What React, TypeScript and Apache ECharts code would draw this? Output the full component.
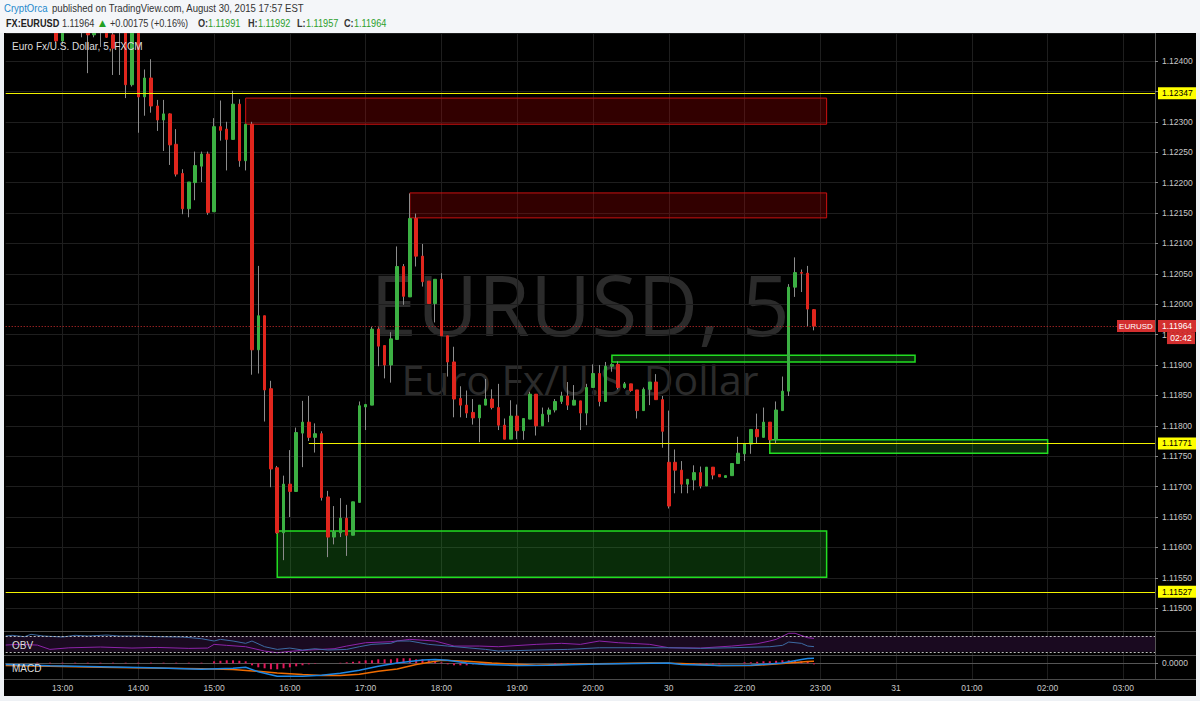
import React, { useEffect, useRef } from 'react';
import * as echarts from 'echarts';

// ---------- data ----------
const firstBarTime = '12:15';
const barCount = 183;
const hourTicks = ['13:00', '14:00', '15:00', '16:00', '17:00', '18:00', '19:00', '20:00', '21:00', '22:00', '23:00', '00:00', '01:00', '02:00', '03:00'];
const hourTickLabels = ['13:00', '14:00', '15:00', '16:00', '17:00', '18:00', '19:00', '20:00', '30', '22:00', '23:00', '31', '01:00', '02:00', '03:00'];

// [time, open, high, low, close]
const candles: [string, number, number, number, number][] = [
  ['12:55', 1.12475, 1.12495, 1.1243, 1.12433],
  ['13:00', 1.12433, 1.12485, 1.12428, 1.1247],
  ['13:05', 1.1247, 1.125, 1.12458, 1.12488],
  ['13:10', 1.12488, 1.12505, 1.12462, 1.12478],
  ['13:15', 1.12478, 1.1249, 1.12439, 1.1247],
  ['13:20', 1.1247, 1.1248, 1.1238, 1.12443],
  ['13:25', 1.12443, 1.12475, 1.12439, 1.12468],
  ['13:30', 1.12468, 1.12485, 1.12423, 1.12458],
  ['13:35', 1.12458, 1.12465, 1.12438, 1.12439],
  ['13:40', 1.12443, 1.1245, 1.12377, 1.12421],
  ['13:45', 1.1246, 1.1249, 1.12377, 1.12475],
  ['13:50', 1.12475, 1.12485, 1.12339, 1.12361],
  ['13:55', 1.12361, 1.1248, 1.12358, 1.1247],
  ['14:00', 1.1247, 1.1248, 1.12282, 1.12341],
  ['14:05', 1.12341, 1.12386, 1.1231, 1.12372],
  ['14:10', 1.12372, 1.12403, 1.12315, 1.12326],
  ['14:15', 1.12326, 1.12336, 1.12285, 1.12303],
  ['14:20', 1.12303, 1.12336, 1.12252, 1.12313],
  ['14:25', 1.12313, 1.12314, 1.12229, 1.12262],
  ['14:30', 1.12263, 1.12288, 1.1221, 1.12214],
  ['14:35', 1.12215, 1.12222, 1.12148, 1.12157],
  ['14:40', 1.12157, 1.12201, 1.12143, 1.12201],
  ['14:45', 1.122, 1.12251, 1.12171, 1.12228],
  ['14:50', 1.12227, 1.12251, 1.12201, 1.12247],
  ['14:55', 1.12247, 1.12251, 1.12147, 1.12151],
  ['15:00', 1.12152, 1.12306, 1.12152, 1.12292],
  ['15:05', 1.12292, 1.12335, 1.12269, 1.12286],
  ['15:10', 1.12288, 1.123, 1.1222, 1.12271],
  ['15:15', 1.12271, 1.12351, 1.12271, 1.12329],
  ['15:20', 1.12329, 1.12337, 1.12226, 1.12236],
  ['15:25', 1.12236, 1.12296, 1.1222, 1.12296],
  ['15:30', 1.12296, 1.123, 1.11884, 1.11925],
  ['15:35', 1.11925, 1.12063, 1.11886, 1.11981],
  ['15:40', 1.11981, 1.11981, 1.11807, 1.11859],
  ['15:45', 1.11861, 1.11874, 1.11699, 1.11729],
  ['15:50', 1.11731, 1.11734, 1.11622, 1.11624],
  ['15:55', 1.11624, 1.11718, 1.11579, 1.11704],
  ['16:00', 1.11704, 1.1176, 1.1165, 1.11692],
  ['16:05', 1.11692, 1.11797, 1.11692, 1.11789],
  ['16:10', 1.11788, 1.11841, 1.11732, 1.11806],
  ['16:15', 1.11806, 1.11849, 1.11775, 1.11781],
  ['16:20', 1.11781, 1.11804, 1.11756, 1.11787],
  ['16:25', 1.11787, 1.11791, 1.11677, 1.11682],
  ['16:30', 1.11683, 1.11693, 1.11584, 1.11617],
  ['16:35', 1.11617, 1.11668, 1.11605, 1.11626],
  ['16:40', 1.11624, 1.11681, 1.11617, 1.11648],
  ['16:45', 1.11648, 1.1167, 1.11586, 1.1162],
  ['16:50', 1.1162, 1.11675, 1.1162, 1.11675],
  ['16:55', 1.11674, 1.1184, 1.11674, 1.11833],
  ['17:00', 1.11831, 1.11836, 1.11793, 1.11835],
  ['17:05', 1.11834, 1.11963, 1.11834, 1.11959],
  ['17:10', 1.11959, 1.11962, 1.11898, 1.11931],
  ['17:15', 1.11932, 1.11932, 1.11878, 1.119],
  ['17:20', 1.119, 1.11954, 1.11871, 1.11943],
  ['17:25', 1.11942, 1.12095, 1.11942, 1.12062],
  ['17:30', 1.12062, 1.12066, 1.11999, 1.12013],
  ['17:35', 1.12012, 1.12182, 1.12012, 1.12141],
  ['17:40', 1.12141, 1.12149, 1.12062, 1.12079],
  ['17:45', 1.12079, 1.12099, 1.12029, 1.12037],
  ['17:50', 1.12038, 1.12038, 1.12001, 1.12001],
  ['17:55', 1.12001, 1.12041, 1.1197, 1.12041],
  ['18:00', 1.12041, 1.12051, 1.11948, 1.11948],
  ['18:05', 1.11948, 1.11948, 1.11881, 1.11905],
  ['18:10', 1.11905, 1.1193, 1.11814, 1.11844],
  ['18:15', 1.11845, 1.11865, 1.11814, 1.11834],
  ['18:20', 1.11834, 1.11858, 1.11813, 1.11821],
  ['18:25', 1.11822, 1.11844, 1.11802, 1.11813],
  ['18:30', 1.11813, 1.11834, 1.11773, 1.11834],
  ['18:35', 1.11834, 1.11877, 1.11834, 1.11844],
  ['18:40', 1.11844, 1.1186, 1.11827, 1.1183],
  ['18:45', 1.1183, 1.11869, 1.11793, 1.11801],
  ['18:50', 1.11801, 1.11812, 1.11778, 1.11778],
  ['18:55', 1.11778, 1.11842, 1.11778, 1.11816],
  ['19:00', 1.11816, 1.11835, 1.11778, 1.11792],
  ['19:05', 1.11792, 1.11812, 1.11777, 1.11812],
  ['19:10', 1.11811, 1.11856, 1.11811, 1.11852],
  ['19:15', 1.11852, 1.11852, 1.11784, 1.118],
  ['19:20', 1.118, 1.1183, 1.118, 1.11819],
  ['19:25', 1.11819, 1.1183, 1.11806, 1.11826],
  ['19:30', 1.11826, 1.11844, 1.11822, 1.1184],
  ['19:35', 1.1184, 1.11856, 1.11836, 1.11849],
  ['19:40', 1.11849, 1.11872, 1.11826, 1.11834],
  ['19:45', 1.11834, 1.11867, 1.11834, 1.11842],
  ['19:50', 1.11841, 1.11841, 1.11793, 1.11821],
  ['19:55', 1.11821, 1.11869, 1.11801, 1.11863],
  ['20:00', 1.11863, 1.11901, 1.11863, 1.11886],
  ['20:05', 1.11886, 1.119, 1.11832, 1.1184],
  ['20:10', 1.1184, 1.11905, 1.1184, 1.11898],
  ['20:15', 1.11898, 1.11903, 1.11889, 1.11901],
  ['20:20', 1.11901, 1.11906, 1.1186, 1.11863],
  ['20:25', 1.11863, 1.11872, 1.11861, 1.11869],
  ['20:30', 1.11869, 1.11869, 1.11856, 1.11858],
  ['20:35', 1.11859, 1.11859, 1.11812, 1.11825],
  ['20:40', 1.11825, 1.11863, 1.11825, 1.1186],
  ['20:45', 1.1186, 1.11872, 1.11834, 1.11872],
  ['20:50', 1.11872, 1.11885, 1.11843, 1.11843],
  ['20:55', 1.11843, 1.11849, 1.11764, 1.11791],
  ['21:00', 1.1174, 1.11825, 1.11664, 1.11668],
  ['21:05', 1.1174, 1.11761, 1.11689, 1.11727],
  ['21:10', 1.11727, 1.11742, 1.11689, 1.11704],
  ['21:15', 1.11704, 1.11712, 1.11689, 1.11712],
  ['21:20', 1.11711, 1.11735, 1.11694, 1.11723],
  ['21:25', 1.11723, 1.11733, 1.11697, 1.11701],
  ['21:30', 1.11701, 1.11732, 1.11701, 1.11732],
  ['21:35', 1.11732, 1.11732, 1.11712, 1.11719],
  ['21:40', 1.1172, 1.1172, 1.11716, 1.11716],
  ['21:45', 1.11715, 1.11718, 1.11715, 1.11718],
  ['21:50', 1.11718, 1.11738, 1.11718, 1.11738],
  ['21:55', 1.11738, 1.11782, 1.11738, 1.11755],
  ['22:00', 1.11754, 1.1177, 1.11742, 1.1177],
  ['22:05', 1.1177, 1.11794, 1.11754, 1.11794],
  ['22:10', 1.11794, 1.1182, 1.11771, 1.11782],
  ['22:15', 1.11781, 1.1183, 1.11781, 1.11806],
  ['22:20', 1.11806, 1.11806, 1.11771, 1.11777],
  ['22:25', 1.11777, 1.1184, 1.11771, 1.11826],
  ['22:30', 1.11825, 1.11881, 1.11825, 1.11857],
  ['22:35', 1.11857, 1.12033, 1.11849, 1.12028],
  ['22:40', 1.12028, 1.12077, 1.12012, 1.12052],
  ['22:45', 1.12052, 1.12057, 1.1202, 1.12051],
  ['22:50', 1.12051, 1.12063, 1.11964, 1.11992],
  ['22:55', 1.11991, 1.11992, 1.11957, 1.11964],
];

const supplyZones = [
  { from: '15:25', to: '23:05', low: 1.12296, high: 1.12339 },
  { from: '17:35', to: '23:05', low: 1.12142, high: 1.12183 },
];
const demandZones = [
  { from: '20:15', to: '00:15', low: 1.11905, high: 1.11916 },
  { from: '22:20', to: '02:00', low: 1.11755, high: 1.11777 },
  { from: '15:50', to: '23:05', low: 1.11551, high: 1.11627 },
];
const levelLines = [
  { price: 1.12347, from: '' },
  { price: 1.11771, from: '16:15' },
  { price: 1.11527, from: '' },
];
const lastPrice = 1.11964;
const countdown = '02:42';

const rsiLine: [string, number][] = [
  ['12:15', 47], ['12:25', 48.8], ['12:40', 47], ['12:50', 36], ['13:05', 40], ['13:30', 42], ['13:55', 39.4],
  ['14:15', 41], ['14:40', 38.6], ['14:55', 39.4], ['15:00', 48.8], ['15:10', 46.3], ['15:25', 42.8],
  ['15:40', 31.8], ['15:50', 27.5], ['16:00', 31], ['16:15', 34.4], ['16:35', 37.7], ['16:45', 44.5],
  ['17:00', 53], ['17:20', 55.5], ['17:35', 61.5], ['17:55', 57.3], ['18:10', 44.5], ['18:30', 44.5],
  ['18:45', 42.8], ['19:15', 48.8], ['19:35', 51.4], ['19:50', 48.8], ['20:05', 57.3], ['20:20', 53],
  ['20:30', 51.4], ['20:45', 48.8], ['21:00', 40.2], ['21:25', 39.4], ['21:50', 44.5], ['22:10', 50.4],
  ['22:20', 57.3], ['22:25', 61.5], ['22:35', 77], ['22:40', 77], ['22:50', 65.7], ['22:55', 64],
];
const obvLine: [string, number][] = [
  ['12:15', 70], ['12:20', 71.8], ['12:30', 68.3], ['12:35', 74.3], ['12:45', 70], ['13:00', 67.5],
  ['13:10', 71.8], ['13:20', 70], ['13:35', 72.5], ['13:45', 70], ['14:00', 70], ['14:15', 68.3],
  ['14:35', 67.5], ['14:50', 63.2], ['15:00', 57.3], ['15:05', 61.5], ['15:15', 57.3], ['15:25', 51.4],
  ['15:30', 57.3], ['15:40', 42.8], ['15:50', 36], ['16:00', 39.4], ['16:10', 34.4], ['16:20', 37.7],
  ['16:30', 34.4], ['16:45', 36], ['16:55', 42.8], ['17:05', 48.8], ['17:20', 51.4], ['17:25', 57.3],
  ['17:35', 57.3], ['17:50', 48.8], ['18:05', 44.5], ['18:35', 36], ['18:45', 31.8], ['19:00', 33],
  ['19:15', 34.4], ['19:40', 36], ['20:05', 40.2], ['20:30', 40.2], ['21:00', 40.2], ['21:25', 38.6],
  ['21:50', 40.2], ['22:20', 42.8], ['22:30', 46.3], ['22:35', 54.7], ['22:45', 51.4], ['22:50', 44.5],
  ['22:55', 43],
];
const macdLine: [string, number][] = [
  ['12:15', -0.000013], ['12:50', -0.000025], ['13:30', -0.000035], ['14:10', -0.000045], ['14:50', -0.00006],
  ['15:15', -0.00005], ['15:25', -0.00004], ['15:35', -0.000085], ['15:50', -0.00013], ['16:10', -0.00013],
  ['16:25', -0.00012], ['16:40', -0.0001], ['16:55', -0.00007], ['17:10', -0.00003], ['17:25', 0.000003],
  ['17:45', 0.000032], ['17:55', 0.000037], ['18:05', 0.00003], ['18:20', 0.000003], ['18:35', -0.000013],
  ['19:00', -0.000023], ['19:25', -0.00002], ['20:05', -0.000007], ['21:00', 0.000003], ['21:10', -0.000013],
  ['21:40', -0.000023], ['22:05', -0.00002], ['22:30', 0.000003], ['22:45', 0.000037], ['22:50', 0.000047],
  ['22:55', 0.00005],
];
const signalLine: [string, number][] = [
  ['12:15', -0.000023], ['12:50', -0.00003], ['13:30', -0.00004], ['14:10', -0.000047], ['14:50', -0.000055],
  ['15:15', -0.000063], ['15:35', -0.00008], ['15:50', -0.000097], ['16:10', -0.000113], ['16:25', -0.000123],
  ['16:40', -0.000123], ['16:55', -0.00011], ['17:10', -0.00008], ['17:25', -0.000057], ['17:40', -0.000013],
  ['18:00', 0.00003], ['18:20', 0.00002], ['18:40', 0.000003], ['19:15', -0.00002], ['19:50', -0.000007],
  ['20:45', 0.000003], ['21:10', -0.000003], ['21:40', -0.000023], ['22:05', -0.000023], ['22:30', -0.000003],
  ['22:50', 0.000017], ['22:55', 0.00002],
];
const macdHist: [string, number][] = [
  ['12:40', 0.000006], ['12:50', 0.000006], ['13:00', 0.000006], ['13:10', 0.000006], ['13:20', 0.000006],
  ['13:30', 0.000006], ['13:40', 0.000006], ['13:50', 0.000006], ['14:00', 0.000006], ['14:10', 0.000006],
  ['14:20', 0.000006], ['14:30', 0.000006], ['14:40', 0.000006], ['14:50', 0.000006],
  ['15:00', 0.00002], ['15:05', 0.000025], ['15:10', 0.00003], ['15:15', 0.00003], ['15:20', 0.000025], ['15:25', 0.00002],
  ['15:30', -0.00002], ['15:35', -0.00004], ['15:40', -0.00005], ['15:45', -0.00006], ['15:50', -0.00006],
  ['15:55', -0.00005], ['16:00', -0.00004], ['16:05', -0.00003], ['16:10', -0.00002], ['16:15', -0.00001],
  ['16:20', -0.000005], ['16:40', 0.000005], ['16:45', 0.00001], ['16:50', 0.000015],
  ['16:55', 0.00002], ['17:00', 0.00003], ['17:05', 0.00003], ['17:10', 0.00004], ['17:15', 0.00004],
  ['17:20', 0.00004], ['17:25', 0.00005], ['17:30', 0.00005], ['17:35', 0.00005], ['17:40', 0.00004],
  ['17:45', 0.00004], ['17:50', 0.00003], ['17:55', 0.00002], ['18:00', 0.00001],
  ['18:05', -0.00001], ['18:10', -0.00002], ['18:15', -0.00002], ['18:20', -0.00002], ['18:25', -0.00001],
  ['18:30', -0.00001], ['18:35', -0.00001], ['18:40', -0.000005],
  ['19:30', -0.000008], ['19:35', -0.000008], ['19:40', -0.000008], ['19:45', -0.000008], ['19:50', -0.000008], ['19:55', -0.000008],
  ['21:10', -0.00001], ['21:15', -0.000015], ['21:20', -0.00001], ['21:25', -0.00001], ['21:30', -0.000015],
  ['21:35', -0.00001], ['21:40', -0.00001],
  ['22:00', 0.00001], ['22:05', 0.00001], ['22:10', 0.000015], ['22:15', 0.00002], ['22:20', 0.00002],
  ['22:25', 0.000025], ['22:30', 0.00003], ['22:35', 0.00003], ['22:40', 0.000025], ['22:45', 0.00002],
  ['22:50', 0.00002], ['22:55', -0.00001],
];

// ---------- helpers ----------
function buildCategories(): string[] {
  const [h0, m0] = firstBarTime.split(':').map(Number);
  const out: string[] = [];
  for (let i = 0; i < barCount; i++) {
    const t = (h0 * 60 + m0 + i * 5) % 1440;
    out.push(String(Math.floor(t / 60)).padStart(2, '0') + ':' + String(t % 60).padStart(2, '0'));
  }
  return out;
}

const UP = '#3cb043';
const DOWN = '#e0261d';
const WICK = '#8c8c8c';
const GRID_COLOR = '#1e1e1e';
const AXIS_COLOR = '#555555';
const LABEL_COLOR = '#c8c8c8';
const FONT = "'Liberation Sans', Arial, sans-serif";
const HEAD_FONT = "'Liberation Sans', Arial, sans-serif";
const SQ = 0.87; // horizontal squeeze for the condensed header face

export default function App() {
  const ref = useRef<HTMLDivElement>(null);

  useEffect(() => {
    document.body.style.margin = '0';
    const chart = echarts.init(ref.current!, undefined, { renderer: 'svg' });
    const categories = buildCategories();
    const lastCat = categories[categories.length - 1];
    const isHour = (_i: number, v: string) => hourTicks.indexOf(v) >= 0;

    const mkX = (gridIndex: number, showLabels: boolean) => ({
      type: 'category',
      gridIndex,
      data: categories,
      boundaryGap: false,
      axisLine: { show: showLabels, lineStyle: { color: AXIS_COLOR } },
      axisTick: { show: false },
      axisLabel: {
        show: showLabels,
        interval: isHour,
        formatter: (v: string) => hourTickLabels[hourTicks.indexOf(v)] ?? '',
        color: LABEL_COLOR,
        fontSize: 8.5,
        fontFamily: FONT,
        margin: 4,
      },
      splitLine: { show: true, interval: isHour, lineStyle: { color: GRID_COLOR, width: 1 } },
    });

    const tagLabel = (bg: string, fg: string) => ({
      show: true,
      position: 'end',
      distance: 3,
      formatter: '{b}',
      backgroundColor: bg,
      color: fg,
      fontSize: 8.5,
      fontFamily: FONT,
      padding: [2, 4, 1, 4],
    });

    const markLineData: any[] = levelLines.map((l) => {
      const name = l.price.toFixed(5);
      if (l.from) {
        return [
          { name, coord: [l.from, l.price] },
          { name, coord: [lastCat, l.price] },
        ];
      }
      return { name, yAxis: l.price };
    });
    markLineData.push({
      name: lastPrice.toFixed(5),
      yAxis: lastPrice,
      lineStyle: { color: '#d32f2f', type: [1, 2], width: 1 },
      label: tagLabel('#d32f2f', '#ffffff'),
    });

    const zoneItems = [
      ...supplyZones.map((z) => [
        { coord: [z.from, z.high], itemStyle: { color: 'rgba(200,0,0,0.25)', borderColor: '#cc1111', borderWidth: 1 } },
        { coord: [z.to, z.low] },
      ]),
      ...demandZones.map((z) => [
        { coord: [z.from, z.high], itemStyle: { color: 'rgba(40,200,40,0.22)', borderColor: '#22dd22', borderWidth: 1.5 } },
        { coord: [z.to, z.low] },
      ]),
    ];

    const headText = (id: string, x: number, y: number, text: string, fill: string, size: number, bold = false) => ({
      id, type: 'text', z: 60, x, y, scaleX: SQ, silent: true,
      style: { text, fill, fontSize: size, fontWeight: bold ? 'bold' : 'normal', fontFamily: HEAD_FONT, verticalAlign: 'middle' },
    });

    const option: any = {
      animation: false,
      backgroundColor: '#000000',
      textStyle: { fontFamily: FONT },
      grid: [
        { left: 5.7, right: 45, top: 33, height: 598.7 },
        { left: 5.7, right: 45, top: 631.7, height: 23.6 },
        { left: 5.7, right: 45, top: 655.3, height: 24 },
      ],
      xAxis: [mkX(0, false), mkX(1, false), mkX(2, true)],
      yAxis: [
        {
          type: 'value',
          gridIndex: 0,
          position: 'right',
          min: 1.1146135,
          max: 1.1244605,
          minInterval: 0.0005,
          maxInterval: 0.0005,
          axisLine: { show: true, lineStyle: { color: AXIS_COLOR } },
          axisTick: { show: true, length: 3, lineStyle: { color: '#888' } },
          axisLabel: {
            color: LABEL_COLOR,
            fontSize: 8.5,
            fontFamily: FONT,
            margin: 7,
            showMinLabel: false,
            showMaxLabel: false,
            formatter: (v: number) => v.toFixed(5),
          },
          splitLine: { show: true, lineStyle: { color: GRID_COLOR } },
        },
        {
          type: 'value',
          gridIndex: 1,
          position: 'right',
          min: 21,
          max: 81,
          axisLine: { show: true, lineStyle: { color: AXIS_COLOR } },
          axisTick: { show: false },
          axisLabel: { show: false },
          splitLine: { show: false },
        },
        {
          type: 'value',
          gridIndex: 2,
          position: 'right',
          min: -0.00016,
          max: 0.00008,
          interval: 0.00016,
          axisLine: { show: true, lineStyle: { color: AXIS_COLOR } },
          axisTick: { show: true, length: 3, lineStyle: { color: '#888' } },
          axisLabel: {
            color: LABEL_COLOR,
            fontSize: 8.5,
            fontFamily: FONT,
            margin: 7,
            formatter: (v: number) => (Math.abs(v) < 1e-10 ? '0.0000' : ''),
          },
          splitLine: { show: false },
        },
      ],
      series: [
        {
          type: 'candlestick',
          name: 'wick',
          xAxisIndex: 0,
          yAxisIndex: 0,
          clip: true,
          barWidth: 1,
          encode: { x: 0, y: [1, 2, 3, 4] },
          data: candles.map(([t, o, h, l, c]) => [t, o, c, l, h]),
          itemStyle: { color: WICK, color0: WICK, borderColor: WICK, borderColor0: WICK, borderWidth: 1 },
          markArea: { silent: true, data: zoneItems },
        },
        {
          type: 'candlestick',
          name: 'body',
          xAxisIndex: 0,
          yAxisIndex: 0,
          clip: true,
          barWidth: 3,
          encode: { x: 0, y: [1, 2, 3, 4] },
          data: candles.map(([t, o, _h, _l, c]) => [t, o, c, Math.min(o, c), Math.max(o, c)]),
          itemStyle: { color: UP, color0: DOWN, borderColor: UP, borderColor0: DOWN, borderWidth: 1 },
          markLine: {
            silent: true,
            precision: 5,
            symbol: ['none', 'none'],
            lineStyle: { color: '#f2f200', width: 1.2, type: 'solid' },
            label: tagLabel('#ffff00', '#000000'),
            data: markLineData,
          },
        },
        {
          type: 'line',
          name: 'RSI',
          xAxisIndex: 1,
          yAxisIndex: 1,
          data: rsiLine,
          symbol: 'none',
          lineStyle: { color: '#8e24aa', width: 1 },
          markArea: { silent: true, itemStyle: { color: '#1a0a20' }, data: [[{ yAxis: 30 }, { yAxis: 70 }]] },
          markLine: {
            silent: true,
            symbol: ['none', 'none'],
            label: { show: false },
            lineStyle: { color: '#bdbdbd', type: [2, 2], width: 1 },
            data: [{ yAxis: 30 }, { yAxis: 70 }],
          },
        },
        {
          type: 'line',
          name: 'OBV',
          xAxisIndex: 1,
          yAxisIndex: 1,
          data: obvLine,
          symbol: 'none',
          lineStyle: { color: '#3d6ba3', width: 1 },
        },
        {
          type: 'bar',
          name: 'Histogram',
          xAxisIndex: 2,
          yAxisIndex: 2,
          data: macdHist,
          barWidth: 2,
          itemStyle: { color: '#e0185a' },
        },
        {
          type: 'line',
          name: 'Signal',
          xAxisIndex: 2,
          yAxisIndex: 2,
          data: signalLine,
          symbol: 'none',
          lineStyle: { color: '#ef6c00', width: 1.5 },
        },
        {
          type: 'line',
          name: 'MACD',
          xAxisIndex: 2,
          yAxisIndex: 2,
          data: macdLine,
          symbol: 'none',
          lineStyle: { color: '#1e88e5', width: 1.5 },
        },
      ],
      graphic: {
        elements: [
          { id: 'wm1', type: 'text', x: 580, y: 303, z: 0, silent: true, style: { text: 'EURUSD, 5', fill: '#2b2b2b', fontSize: 84, lineHeight: 62, fontFamily: "'Open Sans', sans-serif", align: 'center', verticalAlign: 'middle' } },
          { id: 'wm2', type: 'text', x: 580, y: 379, z: 0, silent: true, style: { text: 'Euro Fx/U.S. Dollar', fill: '#2b2b2b', fontSize: 41, lineHeight: 32, fontFamily: "'Open Sans', sans-serif", align: 'center', verticalAlign: 'middle' } },
          { id: 'hdr', type: 'rect', z: 50, silent: true, shape: { x: 0, y: 0, width: 1200, height: 33 }, style: { fill: '#f4f6f9' } },
          { id: 'frL', type: 'rect', z: 50, silent: true, shape: { x: 0, y: 33, width: 4, height: 668 }, style: { fill: '#eef1f5' } },
          { id: 'frR', type: 'rect', z: 50, silent: true, shape: { x: 1196, y: 33, width: 4, height: 668 }, style: { fill: '#eef1f5' } },
          { id: 'frB', type: 'rect', z: 50, silent: true, shape: { x: 0, y: 696, width: 1200, height: 5 }, style: { fill: '#eef1f5' } },
          { id: 'sep1', type: 'line', z: 40, silent: true, shape: { x1: 4, y1: 631.5, x2: 1196, y2: 631.5 }, style: { stroke: '#4a4a4a', lineWidth: 1 } },
          { id: 'sep2', type: 'line', z: 40, silent: true, shape: { x1: 4, y1: 655.5, x2: 1196, y2: 655.5 }, style: { stroke: '#4a4a4a', lineWidth: 1 } },
          { id: 'sep3', type: 'line', z: 40, silent: true, shape: { x1: 4, y1: 679.5, x2: 1196, y2: 679.5 }, style: { stroke: '#4a4a4a', lineWidth: 1 } },
          headText('h1a', 4, 8, 'CryptOrca', '#2489cc', 11),
          headText('h1b', 52, 8, 'published on TradingView.com, August 30, 2015 17:57 EST', '#333333', 11),
          headText('h2a', 6, 23, 'FX:EURUSD', '#222222', 10.5, true),
          headText('h2b', 62, 23, '1.11964', '#333333', 10.5),
          { id: 'h2c', type: 'text', z: 60, x: 99, y: 23, silent: true, style: { text: '▲', fill: '#22a022', fontSize: 9, fontFamily: "'DejaVu Sans', sans-serif", verticalAlign: 'middle' } },
          headText('h2d', 110, 23, '+0.00175 (+0.16%)', '#333333', 10.5),
          headText('h2e', 198, 23, 'O:', '#333333', 10.5, true),
          headText('h2f', 208, 23, '1.11991', '#2ca02c', 10.5),
          headText('h2g', 248, 23, 'H:', '#333333', 10.5, true),
          headText('h2h', 258, 23, '1.11992', '#2ca02c', 10.5),
          headText('h2i', 297, 23, 'L:', '#333333', 10.5, true),
          headText('h2j', 306, 23, '1.11957', '#2ca02c', 10.5),
          headText('h2k', 344, 23, 'C:', '#333333', 10.5, true),
          headText('h2l', 354, 23, '1.11964', '#2ca02c', 10.5),
          { id: 'leg', type: 'text', z: 60, x: 12, y: 46, silent: true, style: { text: 'Euro Fx/U.S. Dollar, 5, FXCM', fill: '#dddddd', fontSize: 10, fontFamily: FONT, verticalAlign: 'middle' } },
          { id: 'obvL', type: 'text', z: 60, x: 12, y: 645, silent: true, style: { text: 'OBV', fill: '#dddddd', fontSize: 10, fontFamily: FONT, verticalAlign: 'middle' } },
          { id: 'macdL', type: 'text', z: 60, x: 12, y: 668, silent: true, style: { text: 'MACD', fill: '#dddddd', fontSize: 10, fontFamily: FONT, verticalAlign: 'middle' } },
        ],
      },
    };

    chart.setOption(option);

    const yLast = chart.convertToPixel({ yAxisIndex: 0 }, lastPrice) as number;
    chart.setOption({
      graphic: {
        elements: [
          { id: 'symTagBg', type: 'rect', z: 60, silent: true, shape: { x: 1117, y: yLast - 6, width: 38, height: 12 }, style: { fill: '#d32f2f' } },
          { id: 'symTag', type: 'text', z: 61, silent: true, x: 1136, y: yLast, style: { text: 'EURUSD', fill: '#fff', fontSize: 8, fontFamily: FONT, align: 'center', verticalAlign: 'middle' } },
          { id: 'cdBg', type: 'rect', z: 60, silent: true, shape: { x: 1167, y: yLast + 6, width: 28, height: 12 }, style: { fill: '#d32f2f' } },
          { id: 'cd', type: 'text', z: 61, silent: true, x: 1181, y: yLast + 12, style: { text: countdown, fill: '#fff', fontSize: 8.5, fontFamily: FONT, align: 'center', verticalAlign: 'middle' } },
        ],
      },
    });

    return () => chart.dispose();
  }, []);

  return <div ref={ref} style={{ position: 'absolute', left: 0, top: 0, width: 1200, height: 701 }} />;
}
